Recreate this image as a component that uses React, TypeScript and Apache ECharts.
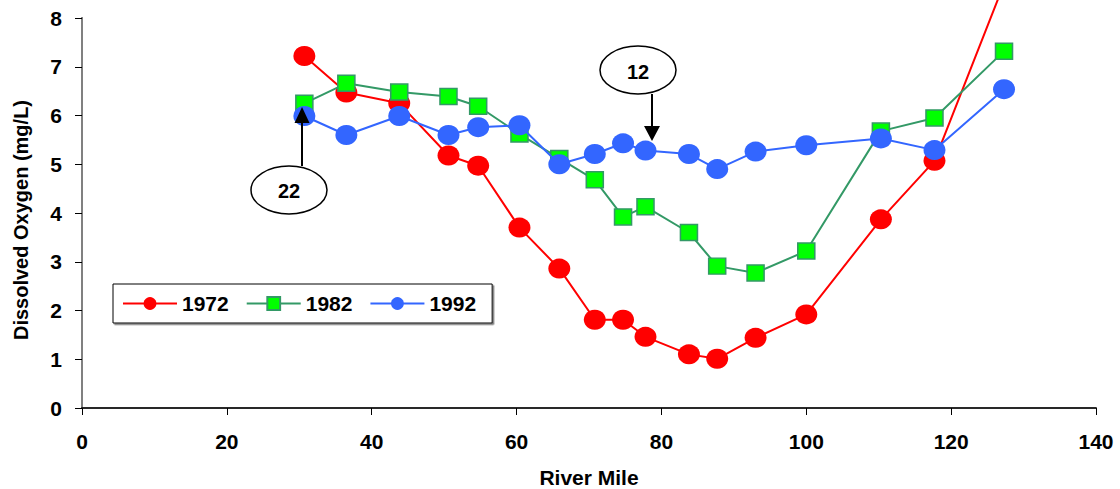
import React, { useEffect, useRef } from "react";
import * as echarts from "echarts";

const riverMile = [30.7, 36.5, 43.8, 50.6, 54.7, 60.4, 65.9, 70.8, 74.7, 77.8, 83.8, 87.7, 93.0, 100.0, 110.3, 117.7, 127.3];
const do1972 = [7.22, 6.47, 6.25, 5.18, 4.97, 3.7, 2.86, 1.81, 1.81, 1.46, 1.1, 1.01, 1.44, 1.92, 3.87, 5.07, 8.7];
const do1982 = [6.25, 6.66, 6.48, 6.39, 6.19, 5.62, 5.12, 4.68, 3.92, 4.13, 3.6, 2.91, 2.77, 3.22, 5.68, 5.95, 7.32];
const do1992 = [5.99, 5.6, 5.99, 5.6, 5.76, 5.8, 5.0, 5.21, 5.43, 5.28, 5.21, 4.9, 5.26, 5.39, 5.53, 5.29, 6.54];
const seriesNames = ["1972", "1982", "1992"];
const xAxisMin = 0;
const xAxisMax = 140;
const xAxisStep = 20;
const yAxisMin = 0;
const yAxisMax = 8;
const yAxisStep = 1;
const xTitle = "River Mile";
const yTitle = "Dissolved Oxygen (mg/L)";
const calloutLabels = ["22", "12"];

const FONT = "'Liberation Sans', Arial, Helvetica, sans-serif";

const pairs = (ys: number[]) => riverMile.map((x, i) => [x, ys[i]]);

export default function App() {
  const ref = useRef<HTMLDivElement>(null);

  useEffect(() => {
    if (!ref.current) return;
    const chart = echarts.init(ref.current, undefined, { renderer: "svg" });
    const axisLabel = {
      color: "#000",
      fontSize: 21,
      fontWeight: "bold",
      fontFamily: FONT,
    };
    const calloutText = (x: number, y: number, t: string) => ({
      type: "text",
      x,
      y,
      z: 20,
      style: {
        text: t,
        fontSize: 20,
        fontWeight: "bold",
        fontFamily: FONT,
        fill: "#000",
        align: "center",
        verticalAlign: "middle",
      },
    });
    chart.setOption({
      animation: false,
      backgroundColor: "#fff",
      grid: {
        left: 82,
        top: 18,
        right: 24,
        bottom: 81,
        containLabel: false,
        outerBoundsMode: "none",
      },
      legend: {
        left: 113,
        top: 284,
        orient: "horizontal",
        padding: [9, 16, 9, 9],
        itemWidth: 54,
        itemHeight: 16,
        itemGap: 17,
        borderColor: "#000",
        borderWidth: 1,
        backgroundColor: "#fff",
        shadowColor: "#777",
        shadowOffsetX: 1.5,
        shadowOffsetY: 1.5,
        shadowBlur: 0,
        selectedMode: false,
        textStyle: { color: "#000", fontSize: 21, fontWeight: "bold", fontFamily: FONT },
        data: seriesNames,
      },
      xAxis: [
        {
          type: "value",
          min: xAxisMin,
          max: xAxisMax,
          interval: xAxisStep,
          position: "bottom",
          name: xTitle,
          nameLocation: "middle",
          nameGap: 59,
          nameTextStyle: { color: "#000", fontSize: 21, fontWeight: "bold", fontFamily: FONT },
          axisLine: { show: true, lineStyle: { color: "#000", width: 1.5 } },
          axisTick: { show: true, length: 7, lineStyle: { color: "#000", width: 1 } },
          axisLabel: { ...axisLabel, margin: 23 },
          splitLine: { show: false },
        },
        {
          type: "value",
          min: xAxisMin,
          max: xAxisMax,
          position: "top",
          axisLine: { show: true, lineStyle: { color: "#222", width: 1.5 } },
          axisTick: { show: false },
          axisLabel: { show: false },
          splitLine: { show: false },
        },
      ],
      yAxis: [
        {
          type: "value",
          min: yAxisMin,
          max: yAxisMax,
          interval: yAxisStep,
          position: "left",
          axisLine: { show: true, lineStyle: { color: "#000", width: 1.5 } },
          axisTick: { show: true, length: 7, lineStyle: { color: "#000", width: 1 } },
          axisLabel: { ...axisLabel, margin: 20 },
          splitLine: { show: false },
        },
        {
          type: "value",
          min: yAxisMin,
          max: yAxisMax,
          position: "right",
          axisLine: { show: true, lineStyle: { color: "#808080", width: 2 } },
          axisTick: { show: false },
          axisLabel: { show: false },
          splitLine: { show: false },
        },
      ],
      series: [
        {
          name: seriesNames[0],
          type: "line",
          data: pairs(do1972),
          clip: false,
          symbol: "circle",
          symbolSize: [22, 20],
          itemStyle: { color: "#FF0000" },
          lineStyle: { color: "#FF0000", width: 2 },
          emphasis: { disabled: true },
          z: 2,
        },
        {
          name: seriesNames[1],
          type: "line",
          data: pairs(do1982),
          symbol: "rect",
          symbolSize: [17, 16],
          itemStyle: { color: "#00FF00", borderColor: "#339966", borderWidth: 1.5 },
          lineStyle: { color: "#339966", width: 2 },
          emphasis: { disabled: true },
          z: 3,
        },
        {
          name: seriesNames[2],
          type: "line",
          data: pairs(do1992),
          symbol: "circle",
          symbolSize: [22, 20],
          itemStyle: { color: "#3366FF" },
          lineStyle: { color: "#3366FF", width: 2 },
          emphasis: { disabled: true },
          z: 4,
        },
      ],
      graphic: [
        {
          type: "text",
          x: 21,
          y: 220,
          rotation: Math.PI / 2,
          style: {
            text: yTitle,
            fontSize: 20,
            fontWeight: "bold",
            fontFamily: FONT,
            fill: "#000",
            align: "center",
            verticalAlign: "middle",
          },
        },
        {
          type: "ellipse",
          z: 19,
          shape: { cx: 289, cy: 190, rx: 38, ry: 24 },
          style: { fill: "#fff", stroke: "#000", lineWidth: 1.5 },
        },
        calloutText(289, 191, calloutLabels[0]),
        {
          type: "line",
          z: 19,
          shape: { x1: 302, y1: 166, x2: 302, y2: 122 },
          style: { stroke: "#000", lineWidth: 2 },
        },
        {
          type: "polygon",
          z: 19,
          shape: { points: [[302, 107], [294.5, 123], [309.5, 123]] },
          style: { fill: "#000" },
        },
        {
          type: "ellipse",
          z: 19,
          shape: { cx: 638, cy: 70, rx: 38, ry: 24 },
          style: { fill: "#fff", stroke: "#000", lineWidth: 1.5 },
        },
        calloutText(638, 72, calloutLabels[1]),
        {
          type: "line",
          z: 19,
          shape: { x1: 652, y1: 94, x2: 652, y2: 127 },
          style: { stroke: "#000", lineWidth: 2 },
        },
        {
          type: "polygon",
          z: 19,
          shape: { points: [[652, 141], [644, 126], [660, 126]] },
          style: { fill: "#000" },
        },
      ],
    });
    return () => chart.dispose();
  }, []);

  return (
    <div
      ref={ref}
      style={{ position: "fixed", left: 0, top: 0, width: 1120, height: 489, background: "#fff" }}
    />
  );
}
